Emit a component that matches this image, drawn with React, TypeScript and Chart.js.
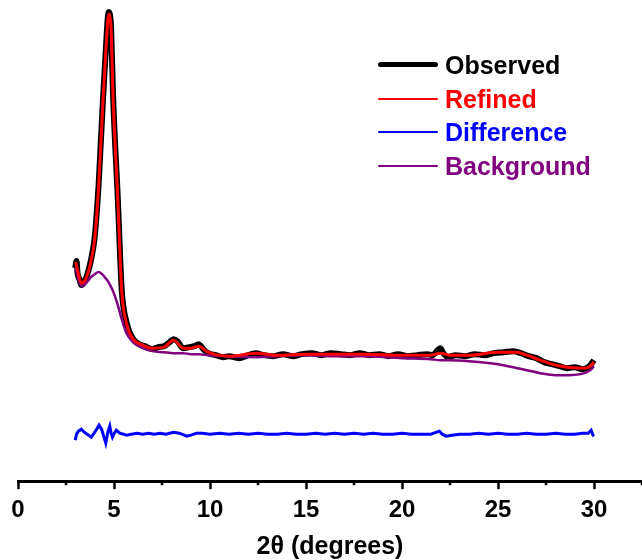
import React, { useEffect, useRef } from "react";
import { Chart, registerables } from "chart.js";

Chart.register(...registerables);

// Observed pattern (2θ, intensity a.u.)
const OBS_X = [2.98, 3.05, 3.1, 3.2, 3.3, 3.45, 3.6, 3.8, 4.0, 4.2, 4.43, 4.6, 4.68, 4.74, 4.8, 4.85, 4.95, 5.2, 5.4, 5.65, 6.0, 6.3, 6.6, 7.0, 7.3, 7.6, 7.9, 8.1, 8.3, 8.6, 8.9, 9.2, 9.4, 9.7, 9.9, 10.3, 10.7, 11.0, 11.5, 12.0, 12.4, 12.8, 13.3, 13.8, 14.3, 14.8, 15.3, 15.8, 16.3, 16.8, 17.3, 17.8, 18.3, 18.8, 19.3, 19.8, 20.3, 20.8, 21.3, 21.6, 21.85, 22.0, 22.15, 22.4, 22.8, 23.3, 23.8, 24.3, 24.8, 25.3, 25.8, 26.2, 26.6, 27.0, 27.4, 27.8, 28.2, 28.6, 29.0, 29.4, 29.7, 29.85, 30.0];
const OBS_Y = [213, 220, 208, 202, 196, 199, 206, 221, 245, 297, 383, 440, 464, 469, 465, 453, 386, 282, 192, 159, 142, 137, 135, 132, 134, 135, 139, 142, 140, 133, 134, 135, 137, 131, 128, 126, 124, 125, 123, 126, 128, 126, 125, 127, 125, 127, 128, 126, 128, 127, 126, 128, 126, 127, 125, 127, 125, 126, 127, 126, 131, 133, 128, 124, 126, 125, 127, 126, 128, 129, 130, 128, 125, 123, 119, 117, 115, 113, 114, 112, 114, 117, 121];

// Refined fit and background share the same 2θ grid
const CALC_X = [3.0, 3.1, 3.3, 3.55, 3.8, 4.0, 4.2, 4.43, 4.6, 4.68, 4.74, 4.8, 4.85, 4.95, 5.2, 5.4, 5.65, 6.0, 6.5, 7.0, 7.6, 8.1, 8.6, 9.0, 9.4, 9.9, 11, 12.4, 13.5, 15, 16.5, 18, 20, 21.5, 22.0, 22.5, 23.5, 25.0, 26.0, 26.5, 27.2, 28.0, 28.6, 29.5, 29.8, 30.0];
const REFINED_Y = [219, 211, 198, 203, 220, 243, 295, 381, 438, 461, 467, 463, 452, 385, 281, 191, 158, 142, 136, 133, 134, 141, 133, 133, 135, 129, 125, 128, 126, 127, 127, 127, 126, 126, 128, 126, 126, 129, 129, 126, 121, 116, 114, 113, 115, 119];
const BACKGROUND_Y = [213, 205, 195, 198, 204, 207, 209, 206, 202, 200, 198, 196, 194, 190, 176, 162, 148, 139, 133, 130, 129, 128, 128, 127, 127, 126, 125, 124, 125, 126, 125, 125, 123, 122, 121, 121, 120, 117, 113, 111, 108, 106, 106, 108, 111, 115];

// Difference curve
const DIFF_X = [2.98, 3.05, 3.15, 3.3, 3.45, 3.6, 3.82, 4.0, 4.22, 4.35, 4.45, 4.57, 4.68, 4.78, 4.85, 4.92, 5.02, 5.12, 5.3, 5.5, 5.65, 5.9, 6.2, 6.5, 6.8, 7.1, 7.4, 7.7, 8.1, 8.4, 8.8, 9.0, 9.3, 9.6, 10.0, 10.5, 11.0, 11.5, 12.0, 12.5, 13, 13.5, 14, 14.5, 15, 15.5, 16, 16.5, 17, 17.5, 18, 18.5, 19, 19.5, 20, 20.5, 21, 21.5, 21.8, 21.95, 22.1, 22.3, 22.6, 23, 23.5, 24, 24.5, 25, 25.5, 26, 26.5, 27, 27.5, 28, 28.5, 29, 29.4, 29.7, 29.85, 29.95, 30.0];
const DIFF_Y = [41, 47, 50, 52, 49, 47, 44, 49, 56, 52, 46, 38, 49, 55, 48, 44, 48, 51, 48, 47, 46, 47, 48, 47, 48, 47, 48, 47, 49, 48, 45, 46, 48, 48, 47, 48, 47, 48, 47, 48, 47, 47, 48, 47, 47, 48, 47, 48, 47, 48, 47, 48, 47, 47, 48, 47, 47, 47, 49, 50, 47, 45, 46, 47, 47, 48, 47, 48, 47, 47, 48, 47, 47, 48, 47, 47, 48, 48, 51, 46, 45];

const MAJOR_TICKS = [0, 5, 10, 15, 20, 25, 30];
const MINOR_TICKS = [2.5, 7.5, 12.5, 17.5, 22.5, 27.5, 32.5];
const X_MIN = 0;
const X_MAX = 32.5;
const Y_MIN = 0;
const Y_MAX = 481;

const LEGEND = [
  { label: "Observed", color: "#000000", width: 5 },
  { label: "Refined", color: "#ff0000", width: 2 },
  { label: "Difference", color: "#0000ff", width: 2 },
  { label: "Background", color: "#800080", width: 2 },
];

const FONT = "'Liberation Sans', Arial, Helvetica, sans-serif";

const pts = (xs: number[], ys: number[]) => xs.map((x, i) => ({ x, y: ys[i] }));

const minorTickPlugin = {
  id: "minorTicks",
  afterDraw(chart: any) {
    const xs = chart.scales.x;
    const ctx = chart.ctx;
    const y0 = chart.chartArea.bottom;
    ctx.save();
    ctx.strokeStyle = "#000";
    ctx.lineWidth = 2.5;
    MINOR_TICKS.forEach((v) => {
      const px = xs.getPixelForValue(v);
      ctx.beginPath();
      ctx.moveTo(px, y0);
      ctx.lineTo(px, y0 + 4);
      ctx.stroke();
    });
    ctx.restore();
  },
};

export default function App() {
  const ref = useRef<HTMLCanvasElement>(null);

  useEffect(() => {
    if (!ref.current) return;
    const chart = new Chart(ref.current, {
      type: "line",
      data: {
        datasets: [
          {
            label: "Observed",
            data: pts(OBS_X, OBS_Y),
            borderColor: "#000000",
            borderWidth: 6,
            pointRadius: 0,
            cubicInterpolationMode: "monotone",
            order: 4,
          },
          {
            label: "Background",
            data: pts(CALC_X, BACKGROUND_Y),
            borderColor: "#800080",
            borderWidth: 2.5,
            pointRadius: 0,
            cubicInterpolationMode: "monotone",
            order: 3,
          },
          {
            label: "Refined",
            data: pts(CALC_X, REFINED_Y),
            borderColor: "#ff0000",
            borderWidth: 3,
            pointRadius: 0,
            cubicInterpolationMode: "monotone",
            order: 1,
          },
          {
            label: "Difference",
            data: pts(DIFF_X, DIFF_Y),
            borderColor: "#0000ff",
            borderWidth: 3,
            pointRadius: 0,
            tension: 0,
            order: 2,
          },
        ],
      },
      options: {
        animation: false,
        responsive: true,
        maintainAspectRatio: false,
        parsing: false as any,
        layout: { padding: { left: 18, right: 0, top: 0, bottom: 0 } },
        plugins: { legend: { display: false }, tooltip: { enabled: false } },
        scales: {
          x: {
            type: "linear",
            min: X_MIN,
            max: X_MAX,
            afterBuildTicks: (axis: any) => {
              axis.ticks = MAJOR_TICKS.map((v) => ({ value: v }));
            },
            ticks: {
              autoSkip: false,
              maxRotation: 0,
              padding: 7,
              color: "#000",
              font: { family: FONT, size: 24, weight: "bold" },
            },
            grid: {
              drawOnChartArea: false,
              drawTicks: true,
              tickLength: 8,
              tickWidth: 2.5,
              tickColor: "#000",
            },
            border: { display: true, color: "#000", width: 3 },
            title: {
              display: true,
              text: "2θ (degrees)",
              color: "#000",
              font: { family: FONT, size: 25, weight: "bold", lineHeight: 1.0 },
              padding: { top: 3, bottom: 0 },
            },
          },
          y: { display: false, min: Y_MIN, max: Y_MAX },
        },
      },
      plugins: [minorTickPlugin],
    } as any);
    return () => chart.destroy();
  }, []);

  return (
    <div style={{ position: "fixed", left: 0, top: 0, width: 642, height: 560, background: "#fff" }}>
      <canvas ref={ref} />
      <div style={{ position: "absolute", left: 378, top: 48, fontFamily: FONT, fontWeight: "bold", fontSize: 25 }}>
        {LEGEND.map((it) => (
          <div key={it.label} style={{ display: "flex", alignItems: "center", height: 33.7 }}>
            <div style={{ width: 60, height: it.width, background: it.color, borderRadius: it.width / 2, marginRight: 7 }} />
            <span style={{ color: it.color, lineHeight: "28px" }}>{it.label}</span>
          </div>
        ))}
      </div>
    </div>
  );
}
